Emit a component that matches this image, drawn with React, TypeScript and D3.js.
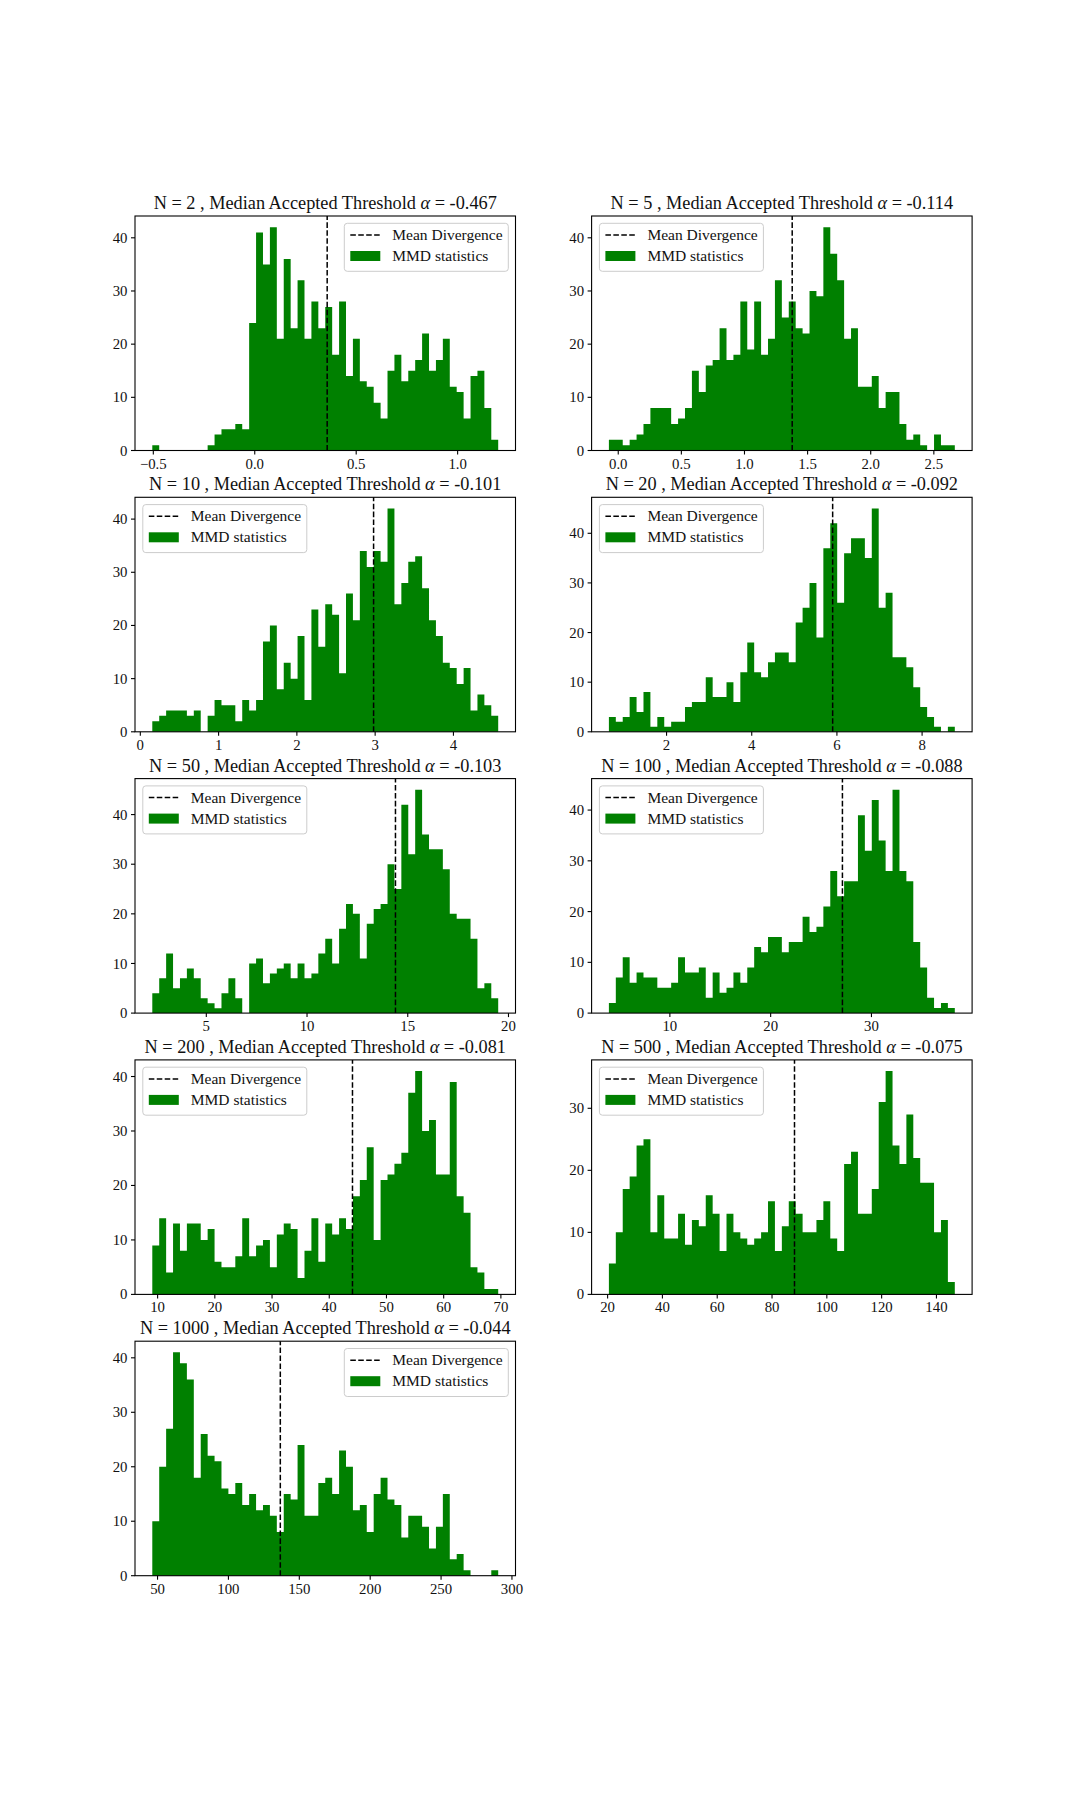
import React from 'react';
import * as d3 from 'd3';

// ---------- data ----------
const sampleSizes = [2, 5, 10, 20, 50, 100, 200, 500, 1000];
const thresholds = ['-0.467', '-0.114', '-0.101', '-0.092', '-0.103', '-0.088', '-0.081', '-0.075', '-0.044'];
const binStarts = [-0.505, -0.074, 0.153, 0.646, 2.319, 3.95, 9.07, 20.47, 46.3];
const binEnds = [1.2, 2.666, 4.572, 8.768, 19.49, 38.27, 69.53, 146.7, 290.3];
const meanDivergences = [0.357, 1.378, 2.98, 5.9, 14.39, 27.12, 44.06, 88.2, 136.6];

const countsN2 = [1,0,0,0,0,0,0,0,1,3, 4,4,5,4,24,41,35,42,21,36, 23,32,21,28,23,27,18,28,14,21, 13,12,9,6,15,18,13,15,17,22, 15,17,21,12,11,6,14,15,8,2];
const countsN5 = [2,2,1,2,3,5,8,8,8,5, 6,8,15,11,16,17,23,17,18,28, 19,28,18,21,32,25,28,23,22,30, 29,42,37,32,21,23,12,12,14,8, 11,11,5,2,3,1,0,3,1,1];
const countsN10 = [2,3,4,4,4,3,4,0,3,6, 5,5,2,6,4,6,17,20,8,13, 10,18,6,23,16,24,22,11,26,21, 34,31,34,32,42,24,28,32,33,27, 21,18,13,12,9,12,4,7,5,3];
const countsN20 = [3,2,3,7,4,8,1,3,1,2, 2,5,6,6,11,7,7,10,6,12, 18,12,11,14,16,16,14,22,25,30, 19,37,42,26,36,39,39,35,45,25, 28,15,15,13,9,5,3,1,0,1];
const countsN50 = [4,7,12,5,7,9,7,3,2,1, 4,7,3,0,10,11,6,8,9,10, 7,10,7,8,12,15,10,17,22,20, 11,18,21,22,30,25,42,32,45,36, 33,33,29,20,19,19,15,5,6,3];
const countsN100 = [2,7,11,6,8,7,7,5,5,6, 11,8,8,9,3,8,4,5,8,6, 9,13,12,15,15,12,14,14,19,16, 17,21,28,23,26,26,39,32,42,34, 28,44,28,26,14,9,3,1,2,1];
const countsN200 = [9,14,4,13,8,13,13,10,12,6, 5,5,7,14,7,9,10,5,11,13, 12,3,8,14,6,13,11,14,12,18, 21,27,10,21,22,24,26,37,41,30, 32,22,22,39,18,15,5,4,1,1];
const countsN500 = [5,10,17,19,24,25,10,16,9,9, 13,8,12,11,16,13,7,13,10,9, 8,9,10,15,7,11,15,13,10,10, 12,15,9,7,21,23,13,13,17,31, 36,24,21,29,22,18,18,10,12,2];
const countsN1000 = [10,20,27,41,39,36,18,26,22,21, 16,15,17,13,15,12,13,11,8,15, 14,24,11,11,17,18,15,23,20,12, 13,8,15,18,14,13,7,11,11,9, 5,9,15,3,4,1,0,0,0,1];
const allCounts = [countsN2, countsN5, countsN10, countsN20, countsN50, countsN100, countsN200, countsN500, countsN1000];

const xTicks = [
  [-0.5, 0, 0.5, 1.0],
  [0, 0.5, 1, 1.5, 2, 2.5],
  [0, 1, 2, 3, 4],
  [2, 4, 6, 8],
  [5, 10, 15, 20],
  [10, 20, 30],
  [10, 20, 30, 40, 50, 60, 70],
  [20, 40, 60, 80, 100, 120, 140],
  [50, 100, 150, 200, 250, 300],
];
const xTickDecimals = [1, 1, 0, 0, 0, 0, 0, 0, 0];
const legendSides = ['right', 'left', 'left', 'left', 'left', 'left', 'left', 'left', 'right'];
const legendLabels = ['Mean Divergence', 'MMD statistics'];

// ---------- layout ----------
const FIG_W = 1080;
const FIG_H = 1800;
const AX_LEFT = 135;
const AX_W = 380.5;
const COL_PITCH = AX_W * 1.2;
const AX_TOP = 216;
const AX_H = 234.5;
const ROW_PITCH = 281.3;
const FONT = '"Liberation Serif", "DejaVu Serif", serif';
const GREEN = '#008000';
const TICK_LEN = 4;

const fmt = (v: number, dec: number) => (v < 0 ? '\u2212' : '') + Math.abs(v).toFixed(dec);

function Legend({ x, y }: { x: number; y: number }) {
  const w = 164;
  const h = 48;
  return (
    <g transform={`translate(${x},${y})`}>
      <rect x={0} y={0} width={w} height={h} rx={3} fill="white" fillOpacity={0.8} stroke="#cccccc" strokeWidth={1} />
      <line x1={6} x2={36} y1={11.7} y2={11.7} stroke="black" strokeWidth={1.5} strokeDasharray="5.55,2.4" />
      <text x={48} y={16.8} fontSize={15.5} fontFamily={FONT} fill="#111">{legendLabels[0]}</text>
      <rect x={6} y={27.7} width={30} height={10} fill={GREEN} />
      <text x={48} y={37.7} fontSize={15.5} fontFamily={FONT} fill="#111">{legendLabels[1]}</text>
    </g>
  );
}

function Panel({ i }: { i: number }) {
  const col = i % 2;
  const row = Math.floor(i / 2);
  const left = AX_LEFT + col * COL_PITCH;
  const top = AX_TOP + row * ROW_PITCH;
  const counts = allCounts[i];
  const start = binStarts[i];
  const end = binEnds[i];
  const pad = 0.05 * (end - start);
  const x = d3.scaleLinear().domain([start - pad, end + pad]).range([left, left + AX_W]);
  const maxC = d3.max(counts) as number;
  const y = d3.scaleLinear().domain([0, maxC * 1.05]).range([top + AX_H, top]);
  const nb = counts.length;
  const width = (end - start) / nb;
  const pts: [number, number][] = counts.map((c, k) => [start + k * width, c]);
  pts.push([end, counts[nb - 1]]);
  const area = d3
    .area<[number, number]>()
    .x((d) => x(d[0]))
    .y0(y(0))
    .y1((d) => y(d[1]))
    .curve(d3.curveStepAfter);
  const yTicks = d3.range(0, maxC * 1.05, 10);
  const mx = x(meanDivergences[i]);
  const legendX = legendSides[i] === 'right' ? left + AX_W - 7.2 - 164 : left + 7.8;
  const legendY = top + 7.3;
  return (
    <g>
      <text x={left + AX_W / 2} y={top - 7} textAnchor="middle" fontSize={18.3} fontFamily={FONT} fill="#111">
        {`N = ${sampleSizes[i]} , Median Accepted Threshold `}
        <tspan fontStyle="italic">α</tspan>
        {` = ${thresholds[i]}`}
      </text>
      <path d={area(pts) || ''} fill={GREEN} />
      <line x1={mx} x2={mx} y1={top + AX_H} y2={top} stroke="black" strokeWidth={1.5} strokeDasharray="5.55,2.4" />
      <rect x={left} y={top} width={AX_W} height={AX_H} fill="none" stroke="black" strokeWidth={1.1} />
      {xTicks[i].map((t) => (
        <g key={'x' + t}>
          <line x1={x(t)} x2={x(t)} y1={top + AX_H} y2={top + AX_H + TICK_LEN} stroke="black" strokeWidth={1.1} />
          <text x={x(t)} y={top + AX_H + 18} textAnchor="middle" fontSize={14.8} fontFamily={FONT} fill="#111">
            {fmt(t, xTickDecimals[i])}
          </text>
        </g>
      ))}
      {yTicks.map((t) => (
        <g key={'y' + t}>
          <line x1={left - TICK_LEN} x2={left} y1={y(t)} y2={y(t)} stroke="black" strokeWidth={1.1} />
          <text x={left - 7.5} y={y(t)} dy="0.34em" textAnchor="end" fontSize={14.8} fontFamily={FONT} fill="#111">
            {fmt(t, 0)}
          </text>
        </g>
      ))}
      <Legend x={legendX} y={legendY} />
    </g>
  );
}

export default function App() {
  return (
    <svg
      width={FIG_W}
      height={FIG_H}
      viewBox={`0 0 ${FIG_W} ${FIG_H}`}
      style={{ position: 'absolute', left: 0, top: 0, background: 'white' }}
    >
      <rect x={0} y={0} width={FIG_W} height={FIG_H} fill="white" />
      {sampleSizes.map((_, i) => (
        <Panel key={i} i={i} />
      ))}
    </svg>
  );
}
